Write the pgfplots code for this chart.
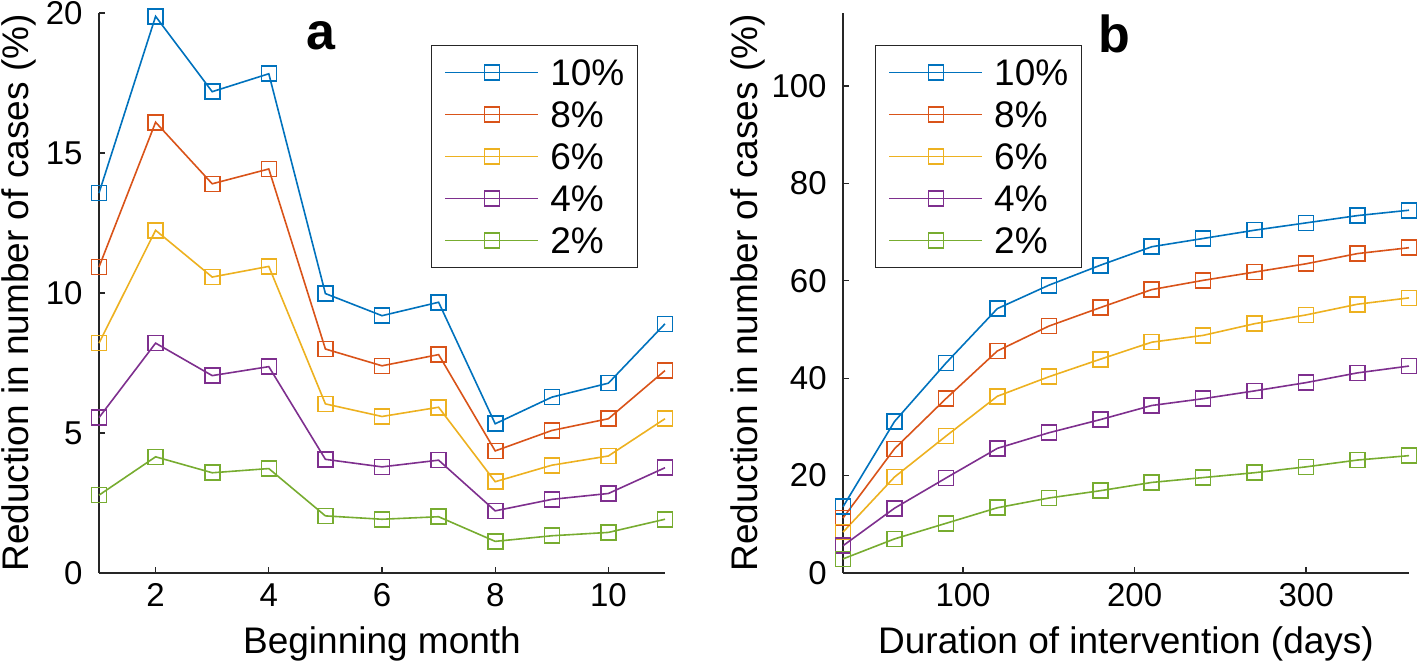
\documentclass[border=0pt]{standalone}
\usepackage{fontspec}
\setmainfont{Liberation Sans}
\usepackage{pgfplots}
\pgfplotsset{compat=1.18}
\definecolor{c1}{rgb}{0,0.447,0.741}
\definecolor{c2}{rgb}{0.85,0.325,0.098}
\definecolor{c3}{rgb}{0.929,0.694,0.125}
\definecolor{c4}{rgb}{0.494,0.184,0.556}
\definecolor{c5}{rgb}{0.466,0.674,0.188}
\definecolor{axc}{rgb}{0.15,0.15,0.15}
\pgfplotsset{
  mystyle/.style={
    scale only axis, width=283pt, height=280pt,
    axis x line*=bottom, axis y line*=left,
    axis line style={draw=axc, line width=0.65pt},
    every tick/.style={draw=axc, line width=0.65pt},
    tick align=inside, major tick length=2.8pt,
    clip=false,
    /pgf/number format/assume math mode=true,
    ticklabel style={font=\fontsize{16.5}{16.5}\selectfont, inner sep=0pt, text=black},
    xticklabel style={anchor=north, yshift=-5pt},
    yticklabel style={anchor=east, xshift=-8pt},
    label style={font=\fontsize{18.5}{18.5}\selectfont},
    xlabel style={at={(axis description cs:0.5,0)}, anchor=base, yshift=-40pt},
    every axis plot/.append style={line width=0.8pt, mark=square, mark size=3.75pt, mark options={solid}},
    legend image code/.code={\draw[##1, mark repeat=2, mark phase=2] plot coordinates {(0pt,0pt)(23.25pt,0pt)(46.5pt,0pt)};},
    legend style={anchor=north west, draw=axc, line width=0.65pt, fill=white,
      font=\fontsize{18.5}{18.5}\selectfont, inner xsep=6.5pt, inner ysep=6.9pt,
      row sep=7.8pt,
      nodes={inner sep=0pt, text height=13.2pt, text depth=0pt, anchor=west},
      /tikz/every odd column/.append style={column sep=5.5pt}},
    legend cell align=left,
  }
}
\begin{document}
\begin{tikzpicture}
\useasboundingbox (0,0) rectangle (709pt,330.5pt);
\begin{axis}[mystyle, at={(49.5pt,44pt)}, anchor=south west,
  xmin=1, xmax=11, ymin=0, ymax=20,
  xtick={2,4,6,8,10}, ytick={0,5,10,15,20},
  xlabel={Beginning month},
  ylabel={Reduction in number of cases (\%)},
  ylabel style={at={(axis description cs:-0.1254,0.5)}, anchor=base, rotate=0},
  legend style={at={(axis description cs:0.5866,0.943)}},
]
\addplot[c1] coordinates {(1,13.57)(2,19.88)(3,17.19)(4,17.83)(5,9.98)(6,9.19)(7,9.67)(8,5.33)(9,6.28)(10,6.78)(11,8.9)};
\addplot[c2] coordinates {(1,10.93)(2,16.10)(3,13.90)(4,14.43)(5,8.00)(6,7.40)(7,7.80)(8,4.36)(9,5.09)(10,5.51)(11,7.23)};
\addplot[c3] coordinates {(1,8.21)(2,12.24)(3,10.57)(4,10.95)(5,6.04)(6,5.59)(7,5.92)(8,3.26)(9,3.85)(10,4.18)(11,5.51)};
\addplot[c4] coordinates {(1,5.55)(2,8.21)(3,7.05)(4,7.37)(5,4.06)(6,3.79)(7,4.03)(8,2.22)(9,2.63)(10,2.84)(11,3.76)};
\addplot[c5] coordinates {(1,2.78)(2,4.15)(3,3.58)(4,3.73)(5,2.04)(6,1.92)(7,2.01)(8,1.13)(9,1.33)(10,1.45)(11,1.92)};
\legend{10\%,8\%,6\%,4\%,2\%}
\node[font=\bfseries\fontsize{26}{26}\selectfont, anchor=base] at (axis description cs:0.392,0.934) {a};
\end{axis}
\begin{axis}[mystyle, at={(421.5pt,44pt)}, anchor=south west,
  xmin=30, xmax=360, ymin=0, ymax=115,
  xtick={100,200,300}, ytick={0,20,40,60,80,100},
  xlabel={Duration of intervention (days)},
  ylabel={Reduction in number of cases (\%)},
  ylabel style={at={(axis description cs:-0.1502,0.5)}, anchor=base, rotate=0},
  legend style={at={(axis description cs:0.0565,0.943)}},
]
\addplot[c1] coordinates {(30,13.6)(60,31.1)(90,43.1)(120,54.3)(150,59.1)(180,63.2)(210,67.0)(240,68.7)(270,70.4)(300,71.9)(330,73.4)(360,74.5)};
\addplot[c2] coordinates {(30,11.3)(60,25.5)(90,35.8)(120,45.6)(150,50.7)(180,54.5)(210,58.2)(240,60.1)(270,61.8)(300,63.5)(330,65.6)(360,66.8)};
\addplot[c3] coordinates {(30,8.4)(60,19.7)(90,28.1)(120,36.3)(150,40.3)(180,43.9)(210,47.4)(240,48.8)(270,51.2)(300,53.0)(330,55.2)(360,56.5)};
\addplot[c4] coordinates {(30,5.6)(60,13.3)(90,19.5)(120,25.6)(150,28.8)(180,31.5)(210,34.4)(240,35.8)(270,37.4)(300,39.1)(330,41.1)(360,42.5)};
\addplot[c5] coordinates {(30,2.9)(60,7.0)(90,10.2)(120,13.4)(150,15.4)(180,16.9)(210,18.6)(240,19.6)(270,20.6)(300,21.8)(330,23.2)(360,24.1)};
\legend{10\%,8\%,6\%,4\%,2\%}
\node[font=\bfseries\fontsize{26}{26}\selectfont, anchor=base] at (axis description cs:0.479,0.930) {b};
\end{axis}
\end{tikzpicture}
\end{document}
